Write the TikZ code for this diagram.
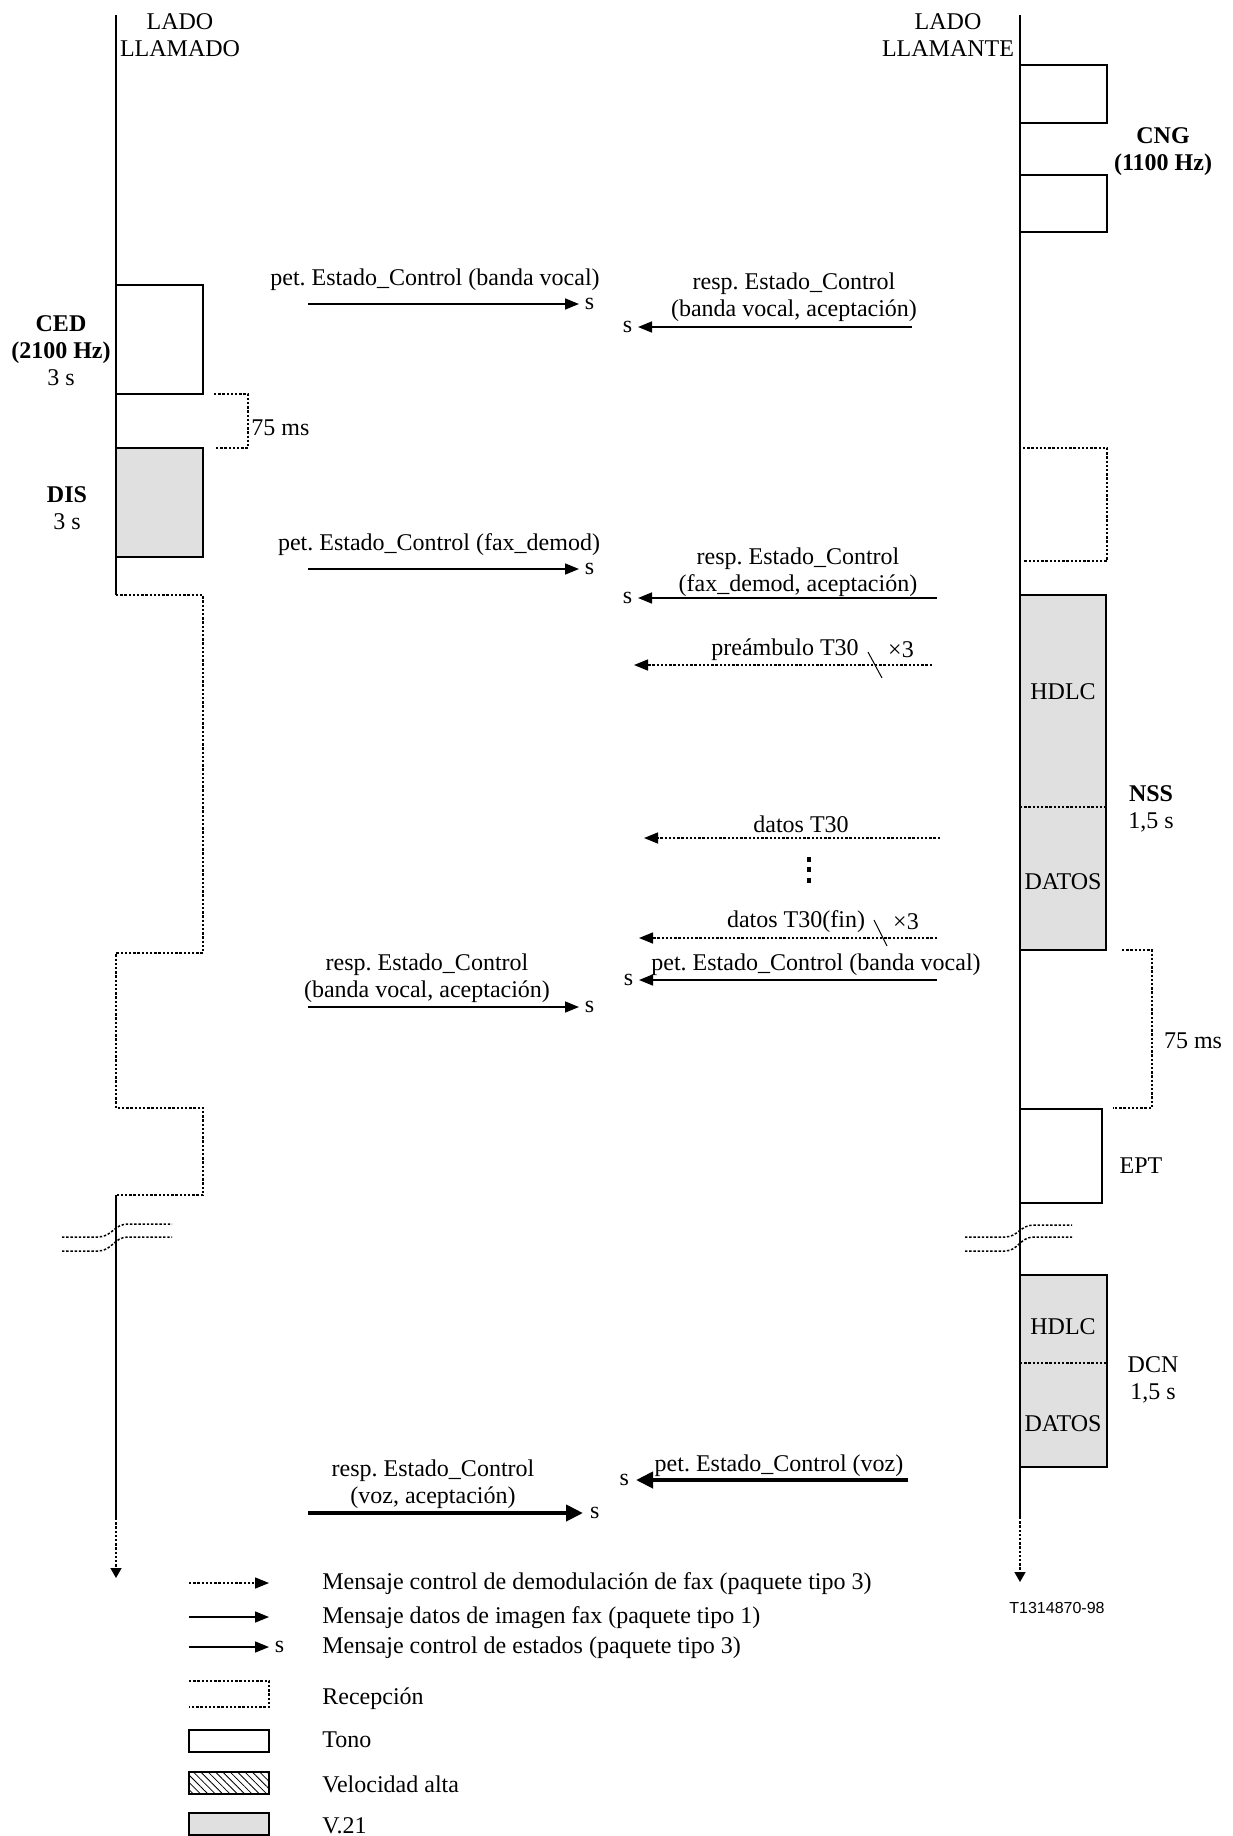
\documentclass[tikz,border=0pt]{standalone}
\usepackage{fontspec}
\setmainfont{Liberation Serif}
\newfontfamily\sansid{Liberation Sans}
\usetikzlibrary{arrows.meta,patterns.meta}
\definecolor{vgray}{RGB}{224,224,224}
\frenchspacing
\tikzset{
  every node/.style={inner sep=0pt, font=\fontsize{12}{13.5}\selectfont},
  lifeline/.style={line width=1.2pt},
  rdot/.style={line width=0.75pt, dash pattern=on 1.2pt off 0.9pt},
  tonebox/.style={draw, line width=0.6pt, fill=white},
  v21box/.style={draw, line width=0.6pt, fill=vgray},
  hatchbox/.style={draw, line width=0.6pt, pattern={Lines[angle=-45,distance=2.6pt,line width=0.4pt]}},
  smsg/.style={line width=0.8pt, -{Triangle[length=7pt,width=5.5pt]}},
  bmsg/.style={line width=2pt, -{Triangle[length=8.5pt,width=8pt]}},
  dmsg/.style={rdot, -{Triangle[length=7pt,width=5.5pt]}},
  endarrow/.style={rdot, line width=0.8pt, -{Triangle[length=5pt,width=5.5pt]}},
  slash/.style={line width=0.5pt},
  lbl/.style={align=center},
}
\begin{document}
\frenchspacing
\begin{tikzpicture}[x=0.5pt,y=-0.5pt]
\useasboundingbox (0,0) rectangle (1232,1836);

% ---------- boxes (left side) ----------
\draw[tonebox] (116,285) rectangle (203,394);
\draw[v21box] (116,448) rectangle (203,557);

% ---------- boxes (right side) ----------
\draw[tonebox] (1020,65) rectangle (1107,123);
\draw[tonebox] (1020,175) rectangle (1107,232);
\draw[rdot] (1023,448) -- (1107,448) -- (1107,561) -- (1023,561);
\draw[v21box] (1020,595) rectangle (1106,950);
\draw[rdot] (1020,807) -- (1106,807);
\draw[tonebox] (1020,1109) rectangle (1102,1203);
\draw[v21box] (1020,1275) rectangle (1107,1467);
\draw[rdot] (1020,1363) -- (1107,1363);

% ---------- lifelines ----------
\coordinate (Ltop) at (116,15);
\coordinate (Lr1) at (116,595);
\coordinate (Lr2) at (116,1195);
\coordinate (Lend) at (116,1518);
\coordinate (Ltip) at (116,1578);
\draw[lifeline] (Ltop) -- (Lr1);
\draw[rdot] (Lr1) -- (203,595) -- (203,953) -- (116,953) -- (116,1108) -- (203,1108) -- (203,1195) -- (Lr2);
\draw[lifeline] (Lr2) -- (Lend);
\draw[endarrow] (Lend) -- (Ltip);

\coordinate (Rtop) at (1020,15);
\coordinate (Rend) at (1020,1517);
\coordinate (Rtip) at (1020,1582);
\draw[lifeline] (Rtop) -- (Rend);
\draw[endarrow] (Rend) -- (Rtip);

% ---------- breaks ----------
\draw[rdot] (62,1237) -- (98,1237) .. controls (112,1237) and (114,1224) .. (128,1224) -- (172,1224);
\draw[rdot] (62,1251) -- (98,1251) .. controls (112,1251) and (114,1237) .. (128,1237) -- (172,1237);
\draw[rdot] (965,1237) -- (1005,1237) .. controls (1018,1237) and (1020,1225) .. (1034,1225) -- (1072,1225);
\draw[rdot] (965,1251) -- (1005,1251) .. controls (1018,1251) and (1020,1237) .. (1034,1237) -- (1072,1237);

% ---------- headers ----------
\node[lbl] (hL) at (180,35) {LADO\\LLAMADO};
\node[lbl] (hR) at (948,35) {LADO\\LLAMANTE};

% ---------- side labels ----------
\node[lbl] (ced) at (61,351) {\textbf{CED}\\\textbf{(2100 Hz)}\\3 s};
\node[lbl] (dis) at (67,508) {\textbf{DIS}\\3 s};
\node[lbl] (cng) at (1163,152) {\textbf{CNG}\\\textbf{(1100 Hz)}};
\node[lbl] (nss) at (1151,809) {\textbf{NSS}\\1,5 s};
\node[lbl] (dcn) at (1153,1380) {DCN\\1,5 s};
\node (ept) at (1141,1166) {EPT};
\node (hd1) at (1063,692) {HDLC};
\node (da1) at (1063,882) {DATOS};
\node (hd2) at (1063,1327) {HDLC};
\node (da2) at (1063,1424) {DATOS};

% ---------- 75 ms brackets ----------
\draw[rdot] (214,394) -- (248,394) -- (248,448) -- (215,448);
\node[anchor=west] (ms1) at (251,428) {75 ms};
\draw[rdot] (1122,950) -- (1152,950) -- (1152,1108) -- (1113,1108);
\node (ms2) at (1193,1041) {75 ms};

% ---------- messages ----------
\node (t1) at (435,280) {pet. Estado\_Control (banda vocal)};
\coordinate (m1a) at (308,304); \coordinate (m1b) at (579,304);
\draw[smsg] (m1a) -- (m1b) node[right=2.5pt] (s1) {s};

\node[lbl] (t2) at (794,297) {resp. Estado\_Control\\(banda vocal, aceptación)};
\coordinate (m2a) at (912,327); \coordinate (m2b) at (638,327);
\draw[smsg] (m2a) -- (m2b) node[left=2.5pt] (s2) {s};

\node (t3) at (439,545) {pet. Estado\_Control (fax\_demod)};
\coordinate (m3a) at (308,569); \coordinate (m3b) at (579,569);
\draw[smsg] (m3a) -- (m3b) node[right=2.5pt] (s3) {s};

\node[lbl] (t4) at (798,572) {resp. Estado\_Control\\(fax\_demod, aceptación)};
\coordinate (m4a) at (937,598); \coordinate (m4b) at (638,598);
\draw[smsg] (m4a) -- (m4b) node[left=2.5pt] (s4) {s};

\node (t5) at (785,650) {preámbulo T30};
\node (x5) at (901,650) {×3};
\coordinate (m5a) at (932,665); \coordinate (m5b) at (634,665);
\draw[dmsg] (m5a) -- (m5b);
\coordinate (k5a) at (868,652); \coordinate (k5b) at (882,678);
\draw[slash] (k5a) -- (k5b);

\node (t6) at (801,824) {datos T30};
\coordinate (m6a) at (940,838); \coordinate (m6b) at (644,838);
\draw[dmsg] (m6a) -- (m6b);

\fill (807,857) rectangle (811,862);
\fill (807,867) rectangle (811,872);
\fill (807,878) rectangle (811,883);

\node (t7) at (796,922) {datos T30(fin)};
\node (x7) at (906,922) {×3};
\coordinate (m7a) at (937,938); \coordinate (m7b) at (639,938);
\draw[dmsg] (m7a) -- (m7b);
\coordinate (k7a) at (874,920); \coordinate (k7b) at (887,946);
\draw[slash] (k7a) -- (k7b);

\node (t8) at (816,965) {pet. Estado\_Control (banda vocal)};
\coordinate (m8a) at (937,980); \coordinate (m8b) at (639,980);
\draw[smsg] (m8a) -- (m8b) node[left=2.5pt] (s8) {s};

\node[lbl] (t9) at (427,978) {resp. Estado\_Control\\(banda vocal, aceptación)};
\coordinate (m9a) at (308,1007); \coordinate (m9b) at (579,1007);
\draw[smsg] (m9a) -- (m9b) node[right=2.5pt] (s9) {s};

\node (t10) at (779,1466) {pet. Estado\_Control (voz)};
\coordinate (m10a) at (908,1480); \coordinate (m10b) at (636,1480);
\draw[bmsg] (m10a) -- (m10b) node[left=2.5pt] (s10) {s};

\node[lbl] (t11) at (433,1484) {resp. Estado\_Control\\(voz, aceptación)};
\coordinate (m11a) at (308,1513); \coordinate (m11b) at (583,1513);
\draw[bmsg] (m11a) -- (m11b) node[right=2.5pt] (s11) {s};

% ---------- figure id ----------
\node[font=\sansid\fontsize{8}{9}\selectfont] (fig) at (1057,1608) {T1314870-98};

% ---------- legend ----------
\coordinate (g1a) at (189,1583); \coordinate (g1b) at (269,1583);
\draw[dmsg] (g1a) -- (g1b);
\node[anchor=west] (gt1) at (322,1584) {Mensaje control de demodulación de fax (paquete tipo 3)};
\coordinate (g2a) at (189,1617); \coordinate (g2b) at (269,1617);
\draw[smsg] (g2a) -- (g2b);
\node[anchor=west] (gt2) at (322,1618) {Mensaje datos de imagen fax (paquete tipo 1)};
\coordinate (g3a) at (189,1647); \coordinate (g3b) at (269,1647);
\draw[smsg] (g3a) -- (g3b) node[right=2.5pt] (gs3) {s};
\node[anchor=west] (gt3) at (322,1648) {Mensaje control de estados (paquete tipo 3)};
\draw[rdot] (189,1681) -- (269,1681) -- (269,1707) -- (189,1707);
\node[anchor=west] (gt4) at (322,1699) {Recepción};
\draw[tonebox] (189,1730) rectangle (269,1752);
\node[anchor=west] (gt5) at (322,1740) {Tono};
\draw[hatchbox] (189,1772) rectangle (269,1794);
\node[anchor=west] (gt6) at (322,1784) {Velocidad alta};
\draw[v21box] (189,1813) rectangle (269,1835);
\node[anchor=west] (gt7) at (322,1826) {V.21};
\end{tikzpicture}
\end{document}
